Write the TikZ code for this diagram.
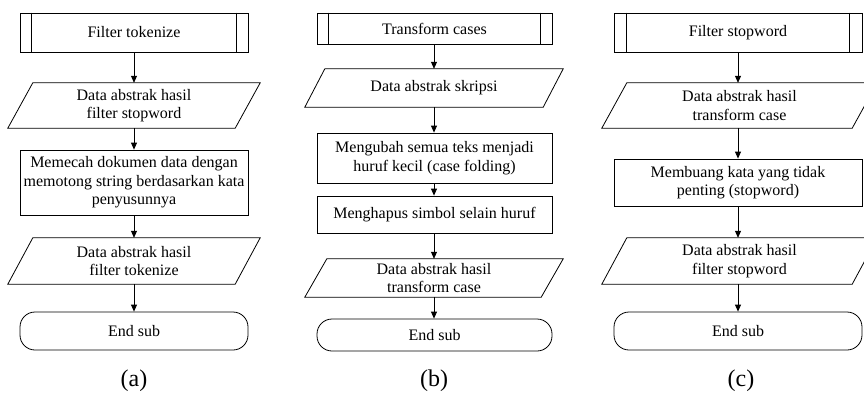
\documentclass[tikz,border=0pt]{standalone}
\usepackage{fontspec}
\setmainfont{Liberation Serif}
\usetikzlibrary{arrows.meta,calc}
\newcommand\drawpara[2]{\draw[shp] ($(#1.north west)+(#2,0)$) -- (#1.north east) -- ($(#1.south east)+(-#2,0)$) -- (#1.south west) -- cycle;}
\newcommand\drawpre[2]{\draw[shp] ($(#1.north west)+(#2,0)$) -- ($(#1.south west)+(#2,0)$); \draw[shp] ($(#1.north east)+(-#2,0)$) -- ($(#1.south east)+(-#2,0)$);}
\begin{document}
\begin{tikzpicture}[x=1pt,y=-1pt,
  every node/.style={font=\fontsize{16}{18.5}\selectfont, align=center, inner sep=0pt},
  shp/.style={draw, line width=0.8pt},
  procbox/.style={shp, rectangle, minimum width=#1},
  parabox/.style={rectangle, minimum width=#1},
  termbox/.style={shp, rectangle, rounded corners=15pt, minimum width=#1},
  arr/.style={line width=0.8pt, -{Triangle[length=7pt,width=6pt]}},
  sublabel/.style={font=\fontsize{24}{26}\selectfont}
]
\useasboundingbox (0,0) rectangle (864,394);
% ---------- (a)
\node[procbox=228, minimum height=39] (a0) at (134,32.5) {Filter tokenize};
\drawpre{a0}{12}
\node[parabox=252, minimum height=45] (a1) at (134,105.5) {Data abstrak hasil\\filter stopword};
\drawpara{a1}{25}
\node[procbox=228, minimum height=65] (a2) at (134,182.5) {Memecah dokumen data dengan\\memotong string berdasarkan kata\\penyusunnya};
\node[parabox=252, minimum height=46] (a3) at (134,261) {Data abstrak hasil\\filter tokenize};
\drawpara{a3}{25}
\node[termbox=228, minimum height=38] (a4) at (134,331) {End sub};
\node[sublabel] (la) at (134,381) {(a)};
\draw[arr] (a0) -- (a1);
\draw[arr] (a1) -- (a2);
\draw[arr] (a2) -- (a3);
\draw[arr] (a3) -- (a4);
% ---------- (b)
\node[procbox=235, minimum height=31] (b0) at (434.5,28.5) {Transform cases};
\drawpre{b0}{12}
\node[parabox=258, minimum height=38] (b1) at (434,88) {Data abstrak skripsi};
\drawpara{b1}{20}
\node[procbox=235, minimum height=50] (b2) at (434.5,158) {Mengubah semua teks menjadi\\huruf kecil (case folding)};
\node[procbox=235, minimum height=37] (b3) at (434.5,214.5) {Menghapus simbol selain huruf};
\node[parabox=258, minimum height=38] (b4) at (434,278) {Data abstrak hasil\\transform case};
\drawpara{b4}{22}
\node[termbox=235, minimum height=32] (b5) at (434.5,335) {End sub};
\node[sublabel] (lb) at (434,381) {(b)};
\draw[arr] (b0.south -| b1) -- (b1);
\draw[arr] (b1) -- (b2.north -| b1);
\draw[arr] (b2.south -| b1) -- (b3.north -| b1);
\draw[arr] (b3.south -| b1) -- (b4);
\draw[arr] (b4) -- (b5.north -| b4);
% ---------- (c)
\node[procbox=248, minimum height=39] (c0) at (738,32.5) {Filter stopword};
\drawpre{c0}{13}
\node[parabox=275, minimum height=45] (c1) at (739.5,105.5) {Data abstrak hasil\\transform case};
\drawpara{c1}{25}
\node[procbox=248, minimum height=47] (c2) at (738,182.5) {Membuang kata yang tidak\\penting (stopword)};
\node[parabox=275, minimum height=46] (c3) at (739.5,261) {Data abstrak hasil\\filter stopword};
\drawpara{c3}{25}
\node[termbox=248, minimum height=38] (c4) at (738,331) {End sub};
\node[sublabel] (lc) at (741,381) {(c)};
\draw[arr] (c0) -- (c0 |- c1.north);
\draw[arr] (c0 |- c1.south) -- (c2);
\draw[arr] (c2) -- (c2 |- c3.north);
\draw[arr] (c2 |- c3.south) -- (c4);
\end{tikzpicture}
\end{document}
